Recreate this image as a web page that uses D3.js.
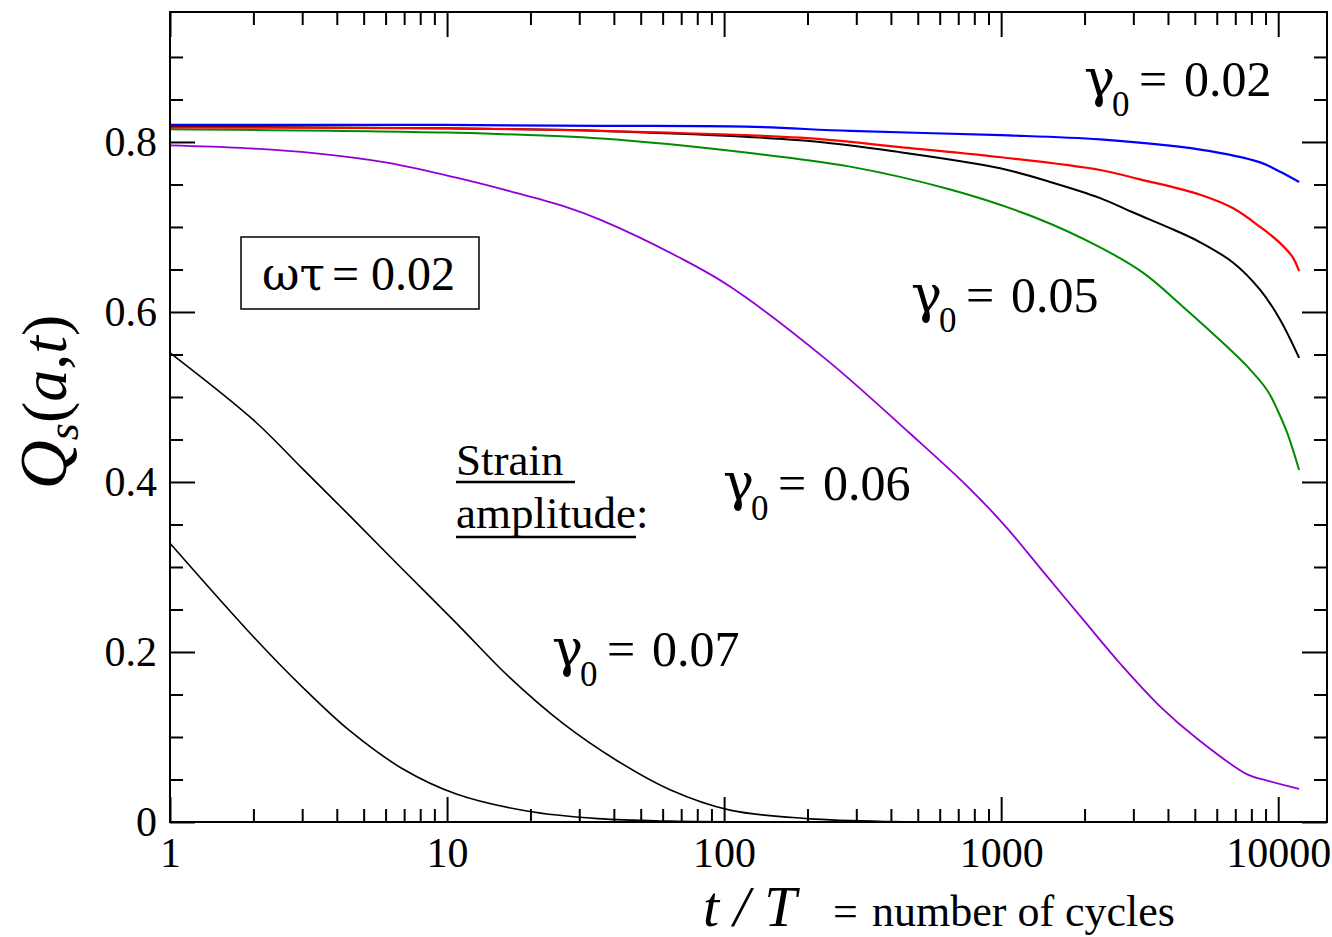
<!DOCTYPE html>
<html>
<head>
<meta charset="utf-8">
<script src="https://cdn.jsdelivr.net/npm/d3@7"></script>
<style>
  body { margin: 0; background: #fff; }
  svg { display: block; }
  text { font-family: "Liberation Serif", "Times New Roman", serif; fill: #000; }
  .greek { font-family: "DejaVu Serif", serif; }
</style>
</head>
<body>
<div id="chart"></div>
<script>
// t/T (cycles) vs Q_s(a,t)
var blueCurve = [[1,0.820],[10,0.820],[36,0.819],[120,0.818],[285,0.813],[1000,0.808],
  [2277,0.803],[5230,0.791],[8610,0.776],[10160,0.765],[11900,0.753]];
var redCurve = [[1,0.817],[10,0.816],[36,0.813],[188,0.805],[432,0.794],[1000,0.782],
  [2277,0.767],[3175,0.756],[5230,0.738],[6880,0.722],[8610,0.700],[10160,0.681],[11240,0.665],[11900,0.648]];
var blackCurve = [[1,0.818],[10,0.816],[36,0.813],[188,0.802],[432,0.788],[992,0.769],[1503,0.753],
  [2277,0.734],[2998,0.717],[4180,0.697],[5230,0.682],[6880,0.658],[8610,0.626],[10160,0.591],[11900,0.546]];
var greenCurve = [[1,0.815],[10,0.811],[36,0.804],[124,0.787],[285,0.771],[655,0.744],[1305,0.712],
  [2277,0.676],[3258,0.646],[4540,0.606],[6545,0.559],[7730,0.536],[9125,0.508],[9930,0.485],
  [10770,0.458],[11900,0.414]];
var purpleCurve = [[1,0.796],[1.8,0.793],[3.3,0.787],[6,0.776],[10.8,0.758],[16.9,0.742],[26,0.725],
  [36,0.708],[69,0.664],[105,0.630],[234,0.544],[469,0.457],[760,0.394],[1042,0.347],
  [1430,0.293],[1977,0.238],[2711,0.185],[3718,0.137],[5140,0.097],[7730,0.056],[9055,0.049],[11900,0.039]];
var lowCurveA = [[1,0.552],[2,0.473],[3,0.416],[4.43,0.361],[6.88,0.298],[10.8,0.234],[16.7,0.171],
  [26.2,0.116],[40.7,0.073],[63.8,0.038],[105,0.014],[200,0.004],[400,0.0005],[1000,0]];
var lowCurveB = [[1,0.328],[2,0.218],[3,0.159],[4.43,0.108],[6.88,0.063],[10.8,0.033],[19.4,0.013],
  [35,0.004],[64,0.001],[150,0],[300,0]];

var xMajor = [1, 10, 100, 1000, 10000];
var yMajor = [0, 0.2, 0.4, 0.6, 0.8];
var gammaLabels = ["0.02", "0.05", "0.06", "0.07"];

var width = 1332, height = 937;
var mLeft = 170, mRight = 1327, mTop = 12, mBottom = 822;

var svg = d3.select("#chart").append("svg")
  .attr("width", width)
  .attr("height", height);

var x = d3.scaleLog().domain([1, 15000]).range([mLeft, mRight]);
var y = d3.scaleLinear().domain([0, 0.9529]).range([mBottom, mTop]);

var xMinor = [];
for (var p = 0; p <= 4; p++) {
  for (var m = 2; m <= 9; m++) {
    var v = m * Math.pow(10, p);
    if (v < 15000) xMinor.push(v);
  }
}
var yMinor = d3.range(0.05, 0.93, 0.05).filter(function(d) {
  return Math.abs(d / 0.2 - Math.round(d / 0.2)) > 0.01;
});

// curves
var line = d3.line()
  .x(function(d) { return x(d[0]); })
  .y(function(d) { return y(d[1]); })
  .curve(d3.curveCatmullRom.alpha(0.5));

var series = [
  { data: lowCurveB, color: "#000", w: 1.6 },
  { data: lowCurveA, color: "#000", w: 1.6 },
  { data: purpleCurve, color: "#9400d3", w: 1.8 },
  { data: greenCurve, color: "#008b00", w: 2 },
  { data: blackCurve, color: "#000", w: 2 },
  { data: redCurve, color: "#ff0000", w: 2.2 },
  { data: blueCurve, color: "#0000ff", w: 2.2 }
];

svg.append("g").selectAll("path")
  .data(series)
  .enter().append("path")
  .attr("d", function(d) { return line(d.data); })
  .attr("fill", "none")
  .attr("stroke", function(d) { return d.color; })
  .attr("stroke-width", function(d) { return d.w; })
  .attr("stroke-linejoin", "round");

// axes, ticks point inwards on all four sides
function styleAxis(g) {
  g.select(".domain").remove();
  g.selectAll(".tick line").attr("stroke", "#000").attr("stroke-width", 2);
  g.selectAll("text")
    .style("font-family", "'Liberation Serif', 'Times New Roman', serif")
    .style("font-size", "42px")
    .attr("fill", "#000");
}

svg.append("g")
  .attr("transform", "translate(0," + mBottom + ")")
  .call(d3.axisBottom(x).tickValues(xMajor).tickFormat(d3.format("d")).tickSize(-25).tickPadding(15))
  .call(styleAxis);
svg.append("g")
  .attr("transform", "translate(0," + mBottom + ")")
  .call(d3.axisBottom(x).tickValues(xMinor).tickFormat("").tickSize(-13))
  .call(styleAxis);
svg.append("g")
  .attr("transform", "translate(0," + mTop + ")")
  .call(d3.axisTop(x).tickValues(xMajor).tickFormat("").tickSize(-25))
  .call(styleAxis);
svg.append("g")
  .attr("transform", "translate(0," + mTop + ")")
  .call(d3.axisTop(x).tickValues(xMinor).tickFormat("").tickSize(-13))
  .call(styleAxis);

svg.append("g")
  .attr("transform", "translate(" + mLeft + ",0)")
  .call(d3.axisLeft(y).tickValues(yMajor).tickFormat(function(d) { return d === 0 ? "0" : d3.format(".1f")(d); })
    .tickSize(-25).tickPadding(13))
  .call(styleAxis);
svg.append("g")
  .attr("transform", "translate(" + mLeft + ",0)")
  .call(d3.axisLeft(y).tickValues(yMinor).tickFormat("").tickSize(-13))
  .call(styleAxis);
svg.append("g")
  .attr("transform", "translate(" + mRight + ",0)")
  .call(d3.axisRight(y).tickValues(yMajor).tickFormat("").tickSize(-25))
  .call(styleAxis);
svg.append("g")
  .attr("transform", "translate(" + mRight + ",0)")
  .call(d3.axisRight(y).tickValues(yMinor).tickFormat("").tickSize(-13))
  .call(styleAxis);

// frame
svg.append("rect")
  .attr("x", mLeft).attr("y", mTop)
  .attr("width", mRight - mLeft).attr("height", mBottom - mTop)
  .attr("fill", "none").attr("stroke", "#000").attr("stroke-width", 2);

// gamma_0 labels
var labelPos = [[1086, 96], [913, 312], [725, 500], [554, 666]];
gammaLabels.forEach(function(txt, i) {
  var x0 = labelPos[i][0], b = labelPos[i][1];
  var g = svg.append("g");
  g.append("text").attr("class", "greek").attr("x", x0 - 2).attr("y", b).style("font-size", "52px").text("γ");
  g.append("text").attr("x", x0 + 26).attr("y", b + 20).style("font-size", "35px").text("0");
  g.append("text").attr("x", x0 + 53).attr("y", b).style("font-size", "50px").text("=");
  g.append("text").attr("x", x0 + 98).attr("y", b).style("font-size", "50px").text(txt);
});

// omega tau box
svg.append("rect")
  .attr("x", 241).attr("y", 237).attr("width", 238).attr("height", 72)
  .attr("fill", "none").attr("stroke", "#000").attr("stroke-width", 1.5);
svg.append("text").attr("class", "greek").attr("x", 262).attr("y", 290).style("font-size", "46px").text("ωτ");
svg.append("text").attr("x", 332).attr("y", 290).style("font-size", "48px").text("=");
svg.append("text").attr("x", 371).attr("y", 290).style("font-size", "48px").text("0.02");

// Strain amplitude:
svg.append("text").attr("x", 456).attr("y", 475).style("font-size", "45px").text("Strain");
svg.append("line").attr("x1", 456).attr("x2", 575).attr("y1", 482).attr("y2", 482)
  .attr("stroke", "#000").attr("stroke-width", 2.5);
svg.append("text").attr("x", 456).attr("y", 528).style("font-size", "45px").text("amplitude:");
svg.append("line").attr("x1", 456).attr("x2", 636).attr("y1", 537).attr("y2", 537)
  .attr("stroke", "#000").attr("stroke-width", 2.5);

// axis titles
svg.append("text").attr("x", 703).attr("y", 926)
  .style("font-size", "58px").style("font-style", "italic").text("t / T");
svg.append("text").attr("x", 833).attr("y", 926).style("font-size", "44px").text("=");
svg.append("text").attr("x", 872).attr("y", 926).style("font-size", "44px").text("number of cycles");

var yTitle = svg.append("text")
  .attr("transform", "translate(66,402) rotate(-90)")
  .attr("text-anchor", "middle");
yTitle.append("tspan").style("font-size", "68px").style("font-style", "italic").text("Q");
yTitle.append("tspan").style("font-size", "44px").style("font-style", "italic").attr("dy", 12).text("s");
yTitle.append("tspan").style("font-size", "64px").attr("dy", -12).text("(");
yTitle.append("tspan").style("font-size", "64px").style("font-style", "italic").text("a");
yTitle.append("tspan").style("font-size", "64px").text(",");
yTitle.append("tspan").style("font-size", "64px").style("font-style", "italic").text("t");
yTitle.append("tspan").style("font-size", "64px").text(")");
</script>
</body>
</html>
